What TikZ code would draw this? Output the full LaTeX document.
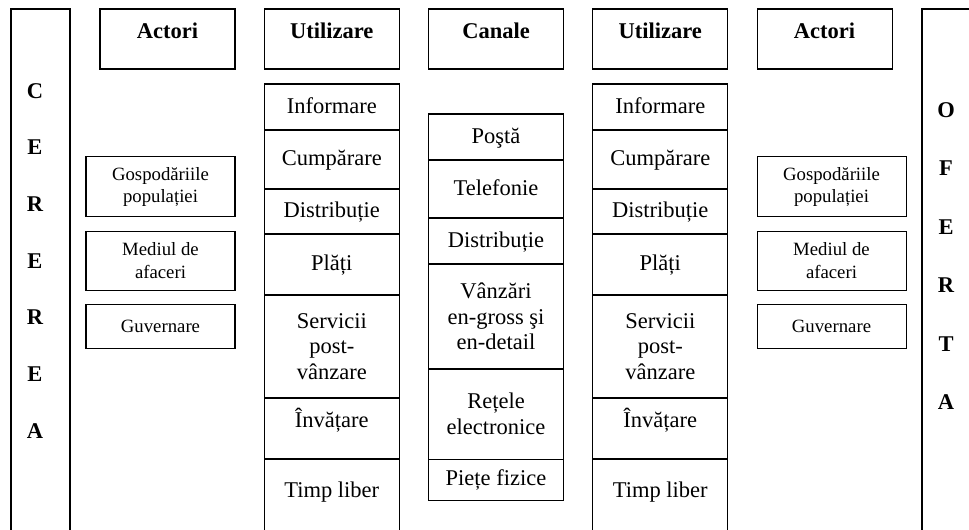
\documentclass[tikz,border=0pt]{standalone}
\usepackage{fontspec}
\setmainfont{Liberation Serif}
\usetikzlibrary{positioning}
\newcommand{\px}{0.5333pt}
\tikzset {
  box/.style = {
    draw = black,
    line width = 0.55pt,
    outer sep = 0,
    inner sep = 0,
    align = center,
    minimum width = 135*\px,
    font = \fontsize{12}{13.6}\selectfont
  },
  % column heading
  head/.style = {
    box,
    font = \bfseries\fontsize{12}{13.6}\selectfont,
    text height = 15.5pt,
    text depth = 16.5pt
  },
  % cell with one line
  cell/.style = {
    box,
    text height = 8.3pt,
    text depth = 1.4pt,
    minimum height = #1*\px
  },
  % cell with several lines
  mcell/.style = {
    box,
    minimum height = #1*\px
  },
  actor/.style = {
    box,
    minimum width = 149*\px,
    minimum height = #1*\px,
    font = \fontsize{10}{12}\selectfont
  },
  % tall side frame
  side/.style = {
    box,
    minimum width = 59*\px,
    minimum height = 560*\px
  },
  letters/.style = {
    align = center,
    inner sep = 0
  },
  node distance = 15.6pt
}

\begin{document}
\begin{tikzpicture}[x=\px, y=-\px]
    \useasboundingbox (0,0) rectangle (969,529);
    \clip (0,0) rectangle (969,529);

    % side frames
    \node[side, anchor=north west] (cerere) at (11,9) {};
    \node[letters, anchor=north, font=\bfseries\fontsize{12}{30.2}\selectfont]
      (cerere text) at (35,83) {C\\E\\R\\E\\R\\E\\A};

    \node[side, anchor=north west] (oferta) at (922,9) {};
    \node[letters, anchor=north, font=\bfseries\fontsize{12}{31.2}\selectfont]
      (oferta text) at (946,102) {O\\F\\E\\R\\T\\A};

    % headings
    \node[head, anchor=north west] (actori st) at (100,9) {Actori};
    \node[head, right=of actori st] (util st) {Utilizare};
    \node[head, right=of util st] (canale) {Canale};
    \node[head, right=of canale] (util dr) {Utilizare};
    \node[head, right=of util dr] (actori dr) {Actori};

    % actors, left
    \node[actor=60, anchor=north east] (gosp st)
      at ([yshift=-46.9pt]actori st.south east) {Gospodăriile\\populației};
    \node[actor=59, below=7.6pt of gosp st] (mediu st) {Mediul de\\afaceri};
    \node[actor=44, below=7.8pt of mediu st] (guv st) {Guvernare};

    % actors, right
    \node[actor=60, anchor=north west] (gosp dr)
      at ([yshift=-46.9pt]actori dr.south west) {Gospodăriile\\populației};
    \node[actor=59, below=7.6pt of gosp dr] (mediu dr) {Mediul de\\afaceri};
    \node[actor=44, below=7.8pt of mediu dr] (guv dr) {Guvernare};

    % utilizare, left
    \node[cell=46, below=8pt of util st] (inf st) {Informare};
    \node[cell=59, below=0pt of inf st] (cump st) {Cumpărare};
    \node[cell=45, below=0pt of cump st] (distr st) {Distribuție};
    \node[cell=61, below=0pt of distr st] (plati st) {Plăți};
    \node[mcell=103, below=0pt of plati st] (serv st) {Servicii\\post-\\vânzare};
    \node[cell=61, text depth=9.9pt, below=0pt of serv st] (inv st) {Învățare};
    \node[cell=101, text depth=21.6pt, below=0pt of inv st] (timp st) {Timp liber};

    % canale
    \node[cell=46, below=24pt of canale] (posta) {Poştă};
    \node[cell=58, below=0pt of posta] (tel) {Telefonie};
    \node[cell=46, below=0pt of tel] (distr) {Distribuție};
    \node[mcell=105, below=0pt of distr] (vanz) {Vânzări\\en-gross şi\\en-detail};
    \node[mcell=90, below=0pt of vanz] (retele) {Rețele\\electronice};
    \node[cell=41, below=0pt of retele] (piete) {Piețe fizice};

    % utilizare, right
    \node[cell=46, below=8pt of util dr] (inf dr) {Informare};
    \node[cell=59, below=0pt of inf dr] (cump dr) {Cumpărare};
    \node[cell=45, below=0pt of cump dr] (distr dr) {Distribuție};
    \node[cell=61, below=0pt of distr dr] (plati dr) {Plăți};
    \node[mcell=103, below=0pt of plati dr] (serv dr) {Servicii\\post-\\vânzare};
    \node[cell=61, text depth=9.9pt, below=0pt of serv dr] (inv dr) {Învățare};
    \node[cell=101, text depth=21.6pt, below=0pt of inv dr] (timp dr) {Timp liber};
\end{tikzpicture}
\end{document}
